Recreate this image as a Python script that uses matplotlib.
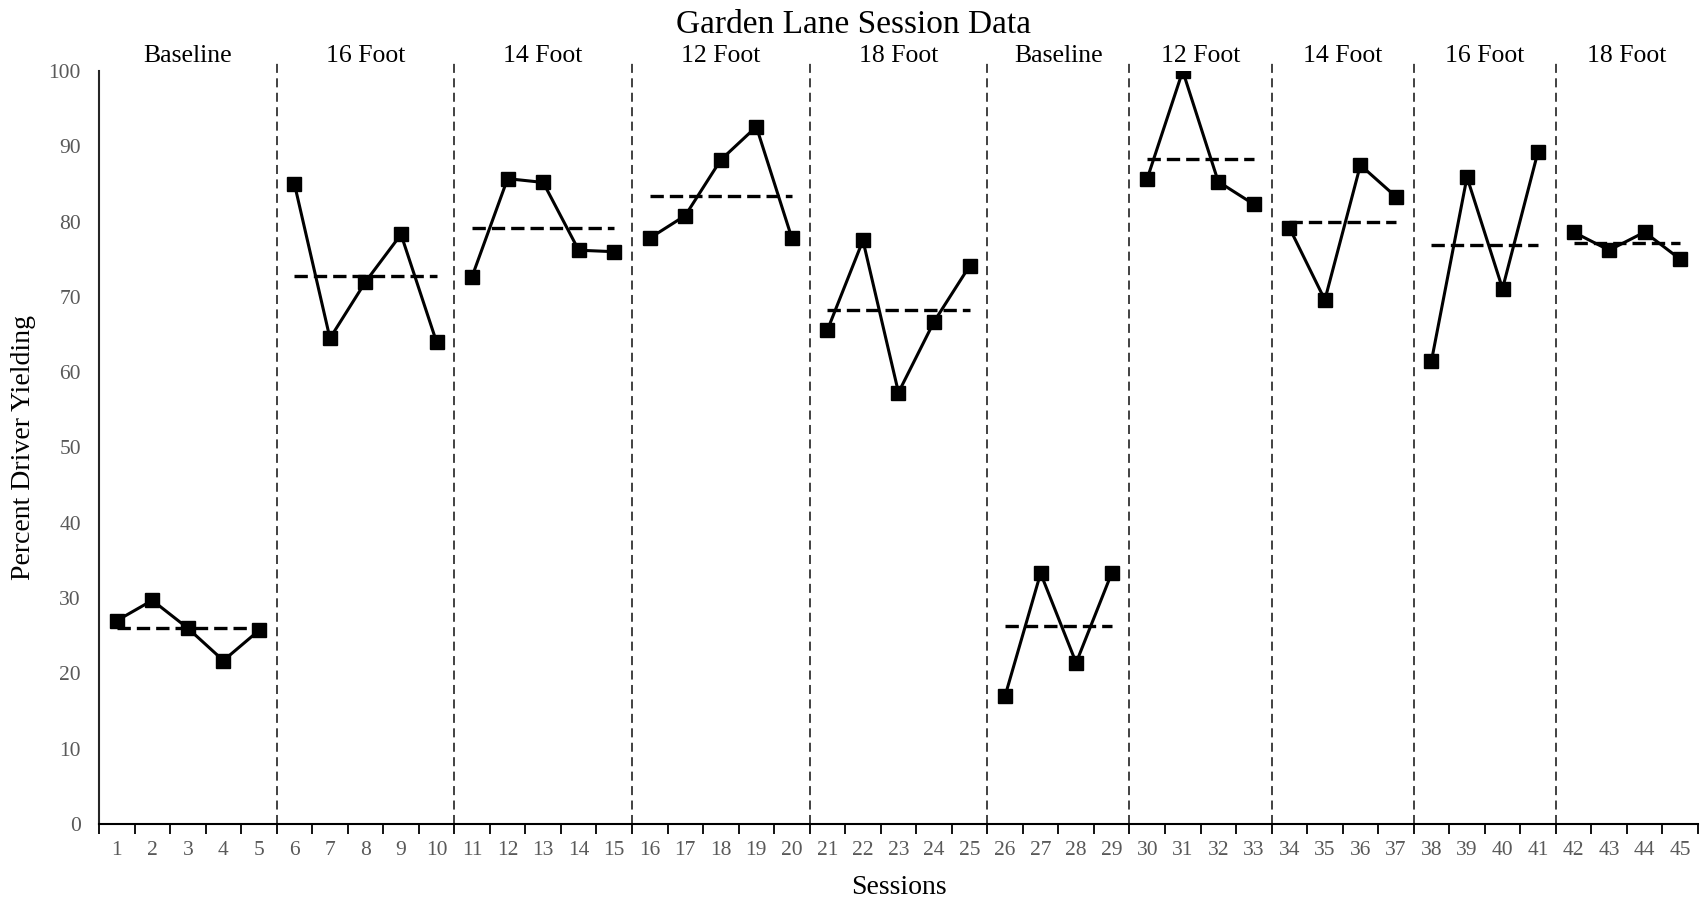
import numpy as np
import matplotlib.pyplot as plt

plt.rcParams['font.family'] = ['Liberation Serif', 'DejaVu Serif']

# phases in the order they were run, and how many sessions each had
phases = ['Baseline', '16 Foot', '14 Foot', '12 Foot', '18 Foot',
          'Baseline', '12 Foot', '14 Foot', '16 Foot', '18 Foot']
phase_sessions = [5, 5, 5, 5, 5, 4, 4, 4, 4, 4]

# percent driver yielding, sessions 1-45
yielding = [
    27.0, 29.7, 26.0, 21.7, 25.7,
    85.0, 64.5, 72.0, 78.3, 64.0,
    72.7, 85.7, 85.2, 76.2, 76.0,
    77.8, 80.8, 88.2, 92.6, 77.8,
    65.6, 77.5, 57.3, 66.7, 74.1,
    17.0, 33.3, 21.4, 33.3,
    85.7, 100.0, 85.3, 82.3,
    79.2, 69.6, 87.5, 83.3,
    61.5, 85.9, 71.1, 89.3,
    78.6, 76.2, 78.6, 75.0,
]
sessions = np.arange(1, len(yielding) + 1)

fig = plt.figure(figsize=(17.07, 9.02), dpi=100)
ax = fig.add_axes([0.058, 0.0865, 0.9367, 0.8348])

tick_grey = '#595959'
start = 0
for name, n in zip(phases, phase_sessions):
    xs = sessions[start:start + n]
    ys = yielding[start:start + n]
    ax.plot(xs, ys, color='black', lw=2.2, marker='s', ms=9.5, zorder=3)
    m = np.mean(ys)
    ax.plot([xs[0], xs[-1]], [m, m], color='black', lw=2.4,
            dashes=(4, 1.8), zorder=2)
    # phase title centred over its sessions
    ax.text((xs[0] + xs[-1]) / 2, 101.2, name, ha='center', va='baseline',
            fontsize=18.5, color='black', clip_on=False)
    if start + n < len(yielding):
        ax.axvline(xs[-1] + 0.5, ymin=0, ymax=1.012, color='#333333',
                   lw=1.3, dashes=(5, 3), clip_on=False, zorder=1)
    start += n

ax.set_xlim(0.5, len(yielding) + 0.5)
ax.set_ylim(0, 100)

# category-style x axis: ticks on the boundaries, labels in the middle
ax.set_xticks(np.arange(0.5, len(yielding) + 1, 1))
ax.set_xticklabels([])
ax.set_xticks(sessions, minor=True)
ax.set_xticklabels([str(s) for s in sessions], minor=True)
ax.tick_params(axis='x', which='major', length=7, width=1.3, color='black')
ax.tick_params(axis='x', which='minor', length=0, pad=12,
               labelsize=15.5, labelcolor=tick_grey)

ax.set_yticks(np.arange(0, 101, 10))
ax.tick_params(axis='y', length=0, pad=13, labelsize=15.5,
               labelcolor=tick_grey)

for side in ['top', 'right']:
    ax.spines[side].set_visible(False)
ax.spines['left'].set_linewidth(1.5)
ax.spines['left'].set_color('#262626')
ax.spines['bottom'].set_linewidth(1.5)
ax.spines['bottom'].set_color('black')

fig.text(0.5, 0.963, 'Garden Lane Session Data', ha='center',
         va='baseline', fontsize=24)
fig.text(0.5264, 0.009, 'Sessions', ha='center', va='baseline', fontsize=20)
fig.text(0.014, 0.504, 'Percent Driver Yielding', ha='center', va='center',
         rotation=90, fontsize=20)

fig.savefig('out.png', dpi=100)
